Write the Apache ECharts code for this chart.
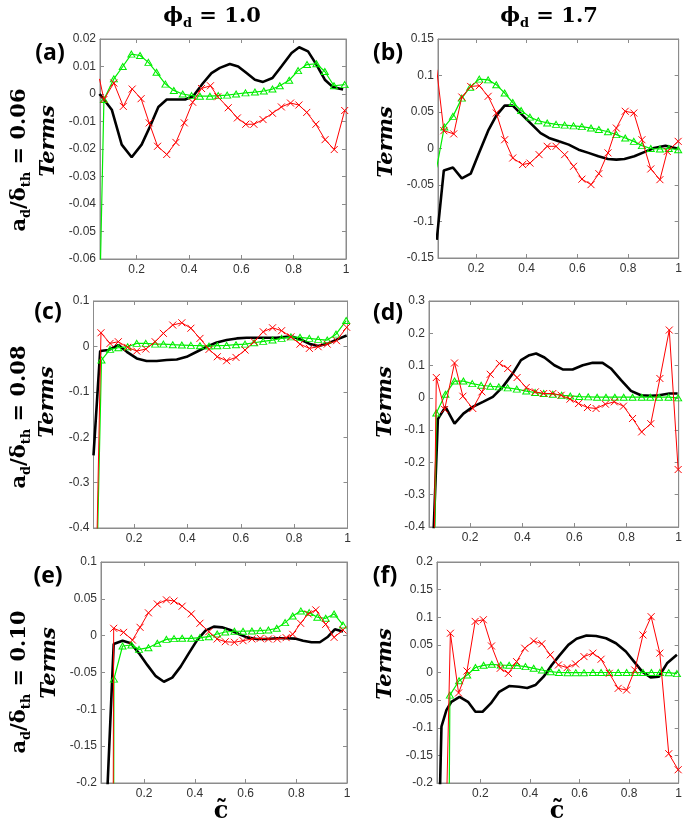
<!DOCTYPE html>
<html><head><meta charset="utf-8">
<script src="https://cdn.jsdelivr.net/npm/echarts@6/dist/echarts.min.js"></script>
<style>html,body{margin:0;padding:0;background:#fff}#c{width:685px;height:826px}</style>
</head><body><div id="c"></div>
<script>
const xTicks=[0.2,0.4,0.6,0.8,1];
const aYTicks=[-0.06,-0.05,-0.04,-0.03,-0.02,-0.01,0,0.01,0.02];
const bYTicks=[-0.15,-0.1,-0.05,0,0.05,0.1,0.15];
const cYTicks=[-0.4,-0.3,-0.2,-0.1,0,0.1];
const dYTicks=[-0.4,-0.3,-0.2,-0.1,0,0.1,0.2,0.3];
const eYTicks=[-0.2,-0.15,-0.1,-0.05,0,0.05,0.1];
const fYTicks=[-0.2,-0.15,-0.1,-0.05,0,0.05,0.1,0.15,0.2];

const aBlack=[[0.058,0],[0.075,-0.002],[0.105,-0.0057],[0.143,-0.0184],[0.181,-0.023],[0.219,-0.0184],[0.251,-0.0118],[0.283,-0.0047],[0.315,-0.002],[0.385,-0.002],[0.416,-0.0008],[0.454,0.004],[0.486,0.0076],[0.518,0.0095],[0.556,0.0109],[0.588,0.010],[0.62,0.0076],[0.652,0.0052],[0.683,0.0044],[0.719,0.0058],[0.753,0.010],[0.792,0.0149],[0.821,0.017],[0.855,0.0155],[0.887,0.0107],[0.919,0.0052],[0.95,0.0025],[0.989,0.0016]];
const aRed=[[0.058,0.0055],[0.075,-0.002],[0.113,0.004],[0.149,-0.0045],[0.183,0.0018],[0.217,-0.0017],[0.248,-0.0105],[0.28,-0.019],[0.315,-0.022],[0.35,-0.0176],[0.382,-0.0105],[0.414,-0.003],[0.448,0.002],[0.482,0.003],[0.51,-0.001],[0.55,-0.005],[0.585,-0.0087],[0.617,-0.011],[0.648,-0.011],[0.683,-0.0093],[0.719,-0.007],[0.753,-0.0047],[0.788,-0.0033],[0.82,-0.004],[0.85,-0.0067],[0.885,-0.011],[0.92,-0.0166],[0.955,-0.0202],[0.995,-0.006]];
const aGreen=[[0.061,-0.065],[0.075,-0.002],[0.113,0.0055],[0.147,0.010],[0.18,0.0145],[0.213,0.014],[0.245,0.0115],[0.276,0.0079],[0.31,0.0036],[0.342,0.0013],[0.376,0],[0.41,-0.0006],[0.442,-0.0008],[0.48,-0.0008],[0.512,-0.0006],[0.546,-0.0004],[0.58,0],[0.616,0.0004],[0.652,0.0007],[0.686,0.0011],[0.719,0.0018],[0.747,0.003],[0.783,0.005],[0.817,0.0085],[0.851,0.0107],[0.887,0.011],[0.919,0.0082],[0.954,0.003],[0.995,0.0034]];

const bBlack=[[0.045,-0.125],[0.073,-0.030],[0.109,-0.026],[0.144,-0.041],[0.179,-0.0345],[0.209,-0.0085],[0.248,0.0244],[0.28,0.045],[0.313,0.0587],[0.345,0.0587],[0.382,0.046],[0.417,0.034],[0.455,0.021],[0.488,0.0144],[0.527,0.0098],[0.566,0.0053],[0.605,-0.0016],[0.644,-0.006],[0.683,-0.0107],[0.721,-0.0144],[0.754,-0.0153],[0.786,-0.0144],[0.825,-0.0107],[0.864,-0.005],[0.903,0.0007],[0.948,0.0039],[0.994,0]];
const bRed=[[0.045,0.108],[0.073,0.0244],[0.112,0.020],[0.144,0.0705],[0.179,0.085],[0.213,0.086],[0.248,0.0715],[0.28,0.0486],[0.313,0.012],[0.345,-0.013],[0.384,-0.022],[0.413,-0.020],[0.449,-0.0084],[0.481,0.003],[0.516,0.003],[0.55,-0.0084],[0.585,-0.0244],[0.618,-0.042],[0.654,-0.0495],[0.685,-0.0345],[0.721,-0.006],[0.754,0.028],[0.789,0.051],[0.823,0.0486],[0.855,0.012],[0.89,-0.028],[0.926,-0.0427],[0.955,-0.004],[0.998,0.0098]];
const bGreen=[[0.045,-0.026],[0.075,0.0295],[0.109,0.044],[0.144,0.069],[0.177,0.084],[0.213,0.095],[0.248,0.094],[0.28,0.0874],[0.313,0.076],[0.345,0.063],[0.378,0.052],[0.413,0.043],[0.446,0.038],[0.481,0.035],[0.516,0.033],[0.55,0.032],[0.585,0.031],[0.618,0.030],[0.654,0.028],[0.685,0.026],[0.721,0.023],[0.754,0.019],[0.789,0.0144],[0.823,0.0098],[0.855,0.0039],[0.89,0],[0.926,-0.0007],[0.961,0],[0.998,-0.0016]];

const cBlack=[[0.048,-0.24],[0.073,-0.0103],[0.104,-0.008],[0.141,0.003],[0.173,-0.012],[0.21,-0.0265],[0.247,-0.032],[0.285,-0.032],[0.322,-0.030],[0.36,-0.0287],[0.397,-0.023],[0.435,-0.0118],[0.472,-0.0007],[0.51,0.0088],[0.547,0.014],[0.585,0.0176],[0.622,0.019],[0.66,0.019],[0.697,0.019],[0.734,0.019],[0.772,0.021],[0.797,0.021],[0.828,0.014],[0.86,0.005],[0.89,0.0007],[0.928,0.0066],[0.959,0.015],[0.997,0.024]];
const cRed=[[0.06,-0.45],[0.076,0.030],[0.11,0.0066],[0.141,0.0103],[0.176,-0.0022],[0.21,-0.0103],[0.244,-0.0059],[0.279,0.0103],[0.31,0.0287],[0.345,0.047],[0.379,0.052],[0.413,0.040],[0.447,0.0176],[0.481,-0.0066],[0.512,-0.0228],[0.547,-0.0316],[0.582,-0.0243],[0.616,-0.0081],[0.65,0.0103],[0.684,0.0323],[0.719,0.041],[0.753,0.0346],[0.788,0.021],[0.822,0.005],[0.857,-0.0044],[0.89,-0.0007],[0.924,0.005],[0.959,0.0125],[0.997,0.042]];
const cGreen=[[0.062,-0.45],[0.078,-0.030],[0.11,-0.0066],[0.141,-0.003],[0.176,-0.0007],[0.21,0.0066],[0.244,0.0066],[0.279,0.005],[0.31,0.005],[0.345,0.0037],[0.379,0.003],[0.413,0.0022],[0.447,0.0015],[0.481,0.0007],[0.512,0.0015],[0.547,0.0022],[0.582,0.0037],[0.616,0.005],[0.65,0.008],[0.684,0.011],[0.719,0.014],[0.753,0.0176],[0.788,0.021],[0.822,0.02],[0.857,0.0176],[0.89,0.0154],[0.924,0.014],[0.957,0.027],[0.995,0.057]];

const dBlack=[[0.058,-0.45],[0.076,-0.066],[0.105,-0.028],[0.14,-0.08],[0.174,-0.049],[0.21,-0.028],[0.249,-0.0124],[0.287,0.003],[0.325,0.034],[0.363,0.075],[0.395,0.117],[0.427,0.132],[0.453,0.1375],[0.485,0.125],[0.523,0.101],[0.555,0.088],[0.593,0.088],[0.632,0.101],[0.67,0.1085],[0.708,0.1085],[0.74,0.091],[0.779,0.055],[0.817,0.0217],[0.855,0.008],[0.893,0.006],[0.925,0.008],[0.964,0.0134],[0.996,0.0134]];
const dRed=[[0.062,-0.45],[0.07,0.063],[0.102,-0.036],[0.14,0.108],[0.172,0.005],[0.21,-0.033],[0.245,0.0186],[0.277,0.073],[0.312,0.1065],[0.344,0.091],[0.38,0.063],[0.415,0.032],[0.45,0.0186],[0.482,0.0134],[0.517,0.0134],[0.549,0.008],[0.583,-0.004],[0.616,-0.0176],[0.65,-0.030],[0.683,-0.033],[0.719,-0.0196],[0.753,-0.0124],[0.788,-0.0258],[0.823,-0.064],[0.858,-0.1055],[0.893,-0.080],[0.928,0.060],[0.964,0.21],[0.998,-0.222]];
const dGreen=[[0.064,-0.45],[0.07,-0.047],[0.105,0.011],[0.14,0.052],[0.174,0.052],[0.208,0.044],[0.242,0.039],[0.277,0.036],[0.31,0.034],[0.344,0.031],[0.379,0.027],[0.415,0.021],[0.449,0.0165],[0.482,0.0134],[0.517,0.0114],[0.551,0.008],[0.584,0.006],[0.619,0.004],[0.653,0.003],[0.687,0.002],[0.721,0.002],[0.755,0.002],[0.789,0.002],[0.823,0.002],[0.858,0.002],[0.891,0.002],[0.925,0.002],[0.961,0.002],[0.998,0]];

const eBlack=[[0.05,-0.25],[0.08,-0.0113],[0.115,-0.007],[0.148,-0.0104],[0.18,-0.024],[0.213,-0.04],[0.246,-0.055],[0.278,-0.0626],[0.311,-0.057],[0.344,-0.042],[0.376,-0.024],[0.409,-0.006],[0.442,0.0068],[0.475,0.0123],[0.507,0.0113],[0.54,0.0077],[0.573,0.0023],[0.605,-0.0023],[0.644,-0.0045],[0.684,-0.0045],[0.723,-0.0036],[0.762,-0.0036],[0.795,-0.004],[0.827,-0.0068],[0.86,-0.009],[0.893,-0.009],[0.925,-0.0014],[0.952,0.0086],[0.984,0.0055]];
const eRed=[[0.078,-0.25],[0.08,0.01],[0.119,0.0045],[0.154,-0.006],[0.184,0.0113],[0.217,0.031],[0.252,0.043],[0.288,0.0486],[0.318,0.047],[0.35,0.040],[0.386,0.0295],[0.42,0.0168],[0.455,0.0054],[0.488,-0.0045],[0.52,-0.0082],[0.556,-0.009],[0.59,-0.0068],[0.625,-0.0045],[0.658,-0.0036],[0.69,-0.0045],[0.725,-0.0045],[0.76,-0.0027],[0.786,0.0018],[0.817,0.0168],[0.847,0.0295],[0.877,0.035],[0.916,0.0154],[0.949,-0.0023],[0.984,0.0077]];
const eGreen=[[0.08,-0.25],[0.081,-0.059],[0.115,-0.014],[0.15,-0.0127],[0.18,-0.0186],[0.217,-0.0163],[0.252,-0.0104],[0.288,-0.005],[0.318,-0.004],[0.35,-0.0036],[0.386,-0.0036],[0.42,-0.0027],[0.455,-0.0014],[0.488,0.0023],[0.52,0.005],[0.556,0.006],[0.59,0.006],[0.625,0.0064],[0.658,0.0068],[0.69,0.0077],[0.723,0.01],[0.756,0.0177],[0.786,0.0268],[0.818,0.0336],[0.851,0.0313],[0.883,0.025],[0.916,0.0236],[0.949,0.0295],[0.984,0.0145]];

const fBlack=[[0.035,-0.25],[0.043,-0.098],[0.063,-0.068],[0.083,-0.053],[0.116,-0.044],[0.15,-0.053],[0.18,-0.071],[0.209,-0.071],[0.242,-0.056],[0.276,-0.035],[0.316,-0.0245],[0.355,-0.0257],[0.389,-0.028],[0.422,-0.0227],[0.455,-0.0076],[0.488,0.0136],[0.521,0.032],[0.555,0.05],[0.588,0.061],[0.628,0.067],[0.667,0.066],[0.707,0.062],[0.747,0.053],[0.787,0.038],[0.82,0.0197],[0.853,0.0015],[0.887,-0.0088],[0.92,-0.0076],[0.953,0.0166],[0.993,0.032]];
const fRed=[[0.063,-0.25],[0.079,0.071],[0.112,-0.037],[0.146,0.0027],[0.179,0.0925],[0.212,0.0955],[0.245,0.048],[0.28,0.0076],[0.313,-0.0015],[0.346,0.0197],[0.379,0.044],[0.415,0.057],[0.448,0.052],[0.482,0.032],[0.515,0.0136],[0.55,0.0088],[0.584,0.0155],[0.618,0.0288],[0.654,0.035],[0.687,0.024],[0.72,-0.0015],[0.756,-0.0287],[0.79,-0.0318],[0.823,0.0045],[0.856,0.068],[0.889,0.101],[0.924,0.035],[0.96,-0.147],[0.998,-0.176]];
const fGreen=[[0.074,-0.25],[0.077,-0.041],[0.114,-0.015],[0.147,-0.0045],[0.18,0.009],[0.213,0.013],[0.246,0.0148],[0.282,0.0136],[0.316,0.013],[0.349,0.0124],[0.382,0.0106],[0.415,0.0076],[0.448,0.0045],[0.484,0.0015],[0.517,0],[0.552,-0.0003],[0.585,-0.0003],[0.618,-0.0003],[0.654,0],[0.687,0],[0.72,0],[0.756,0],[0.79,0],[0.823,0],[0.856,0],[0.89,0],[0.924,0],[0.96,-0.0003],[0.993,-0.002]];

const panelLabels=['(a)','(b)','(c)','(d)','(e)','(f)'];
const colValues=['1.0','1.7'];
const rowValues=['0.06','0.08','0.10'];

const panels=[
 {g:{left:100,top:39,width:246,height:220},xmin:0.06,ymin:-0.06,ymax:0.02,yt:aYTicks,k:aBlack,r:aRed,gr:aGreen,lab:[50,53]},
 {g:{left:438,top:39,width:244,height:219},xmin:0.05,ymin:-0.15,ymax:0.15,yt:bYTicks,k:bBlack,r:bRed,gr:bGreen,lab:[388,53]},
 {g:{left:93.5,top:301,width:254,height:227},xmin:0.048,ymin:-0.4,ymax:0.1,yt:cYTicks,k:cBlack,r:cRed,gr:cGreen,lab:[48,312]},
 {g:{left:429,top:301,width:252,height:226},xmin:0.042,ymin:-0.4,ymax:0.3,yt:dYTicks,k:dBlack,r:dRed,gr:dGreen,lab:[388,313]},
 {g:{left:101,top:562,width:246,height:221},xmin:0.03,ymin:-0.2,ymax:0.1,yt:eYTicks,k:eBlack,r:eRed,gr:eGreen,lab:[48,576]},
 {g:{left:437,top:562,width:245,height:221},xmin:0.025,ymin:-0.2,ymax:0.2,yt:fYTicks,k:fBlack,r:fRed,gr:fGreen,lab:[385,576]}
];

const AX='#8c8c8c', LBL='#333';
const grid=[],xAxis=[],yAxis=[],series=[],graphic=[];
panels.forEach((p,i)=>{
  grid.push(Object.assign({show:true,borderColor:AX,borderWidth:1,backgroundColor:'#fff'},p.g));
  const xb={type:'value',gridIndex:i,min:p.xmin,max:1,
    axisLine:{show:true,onZero:false,lineStyle:{color:AX}},splitLine:{show:false},
    axisTick:{show:true,inside:true,length:4,customValues:xTicks,lineStyle:{color:AX}},
    axisLabel:{show:true,customValues:xTicks,color:LBL,fontSize:12,fontFamily:'Liberation Sans, Arial',margin:5}};
  xAxis.push(xb);
  xAxis.push(Object.assign({},xb,{position:'top',axisLabel:{show:false}}));
  const yb={type:'value',gridIndex:i,min:p.ymin,max:p.ymax,
    axisLine:{show:true,onZero:false,lineStyle:{color:AX}},splitLine:{show:false},
    axisTick:{show:true,inside:true,length:4,customValues:p.yt,lineStyle:{color:AX}},
    axisLabel:{show:true,customValues:p.yt,color:LBL,fontSize:12,fontFamily:'Liberation Sans, Arial',margin:4}};
  yAxis.push(yb);
  yAxis.push(Object.assign({},yb,{position:'right',axisLabel:{show:false}}));
  const ix=2*i;
  series.push({type:'line',xAxisIndex:ix,yAxisIndex:ix,data:p.k,symbol:'none',
    lineStyle:{color:'#000',width:2.6},z:3,clip:true});
  series.push({type:'line',xAxisIndex:ix,yAxisIndex:ix,data:p.gr,symbol:'path://M5,0L10,8.7L0,8.7Z',symbolSize:[7,6],showAllSymbol:true,
    itemStyle:{color:'rgba(255,255,255,0)',borderColor:'#00ee00',borderWidth:1},lineStyle:{color:'#00ee00',width:1.2},z:4,clip:true});
  series.push({type:'line',xAxisIndex:ix,yAxisIndex:ix,data:p.r,symbol:'path://M0,0L10,10M10,0L0,10',symbolSize:7,showAllSymbol:true,
    itemStyle:{color:'#ff0000',borderColor:'#ff0000',borderWidth:1},lineStyle:{color:'#ff0000',width:1},z:5,clip:true});
  graphic.push({type:'text',x:p.lab[0],y:p.lab[1],style:{text:panelLabels[i],fontFamily:'"Open Sans", "Liberation Sans", sans-serif',fontWeight:'bold',fontSize:23,fill:'#000',align:'center',verticalAlign:'middle'}});
});

const serif='"DejaVu Serif", "Liberation Serif", serif';
const richBase={m:{fontFamily:serif,fontWeight:'bold',fontSize:21,fill:'#000',lineHeight:26,verticalAlign:'bottom'},
  s:{fontFamily:serif,fontWeight:'bold',fontSize:13,fill:'#000',lineHeight:26,verticalAlign:'bottom',padding:[0,0,-3,0]}};
[[212,14],[549,14]].forEach((pos,j)=>{
  graphic.push({type:'text',x:pos[0],y:pos[1],style:{text:'{m|ϕ}{s|d}{m| = '+colValues[j]+'}',rich:richBase,align:'center',verticalAlign:'middle'}});
});
[160,417,682].forEach((cy,j)=>{
  graphic.push({type:'text',x:17,y:cy,rotation:Math.PI/2,style:{text:'{m|a}{s|d}{m|/δ}{s|th}{m| = '+rowValues[j]+'}',rich:richBase,align:'center',verticalAlign:'middle'}});
});
[[49,141],[387,142],[48,402],[386,402],[50,663],[386,664]].forEach(pos=>{
  graphic.push({type:'text',x:pos[0],y:pos[1],rotation:Math.PI/2,style:{text:'Terms',font:'italic bold 21px '+serif,fill:'#000',align:'center',verticalAlign:'middle'}});
});
[[221,812],[557,812]].forEach(pos=>{
  graphic.push({type:'text',x:pos[0],y:pos[1],style:{text:'c\u0303',font:'bold 24px '+serif,fill:'#000',align:'center',verticalAlign:'middle'}});
});

const chart=echarts.init(document.getElementById('c'),null,{renderer:'canvas'});
chart.setOption({animation:false,backgroundColor:'#fff',grid,xAxis,yAxis,series,graphic});
</script></body></html>
